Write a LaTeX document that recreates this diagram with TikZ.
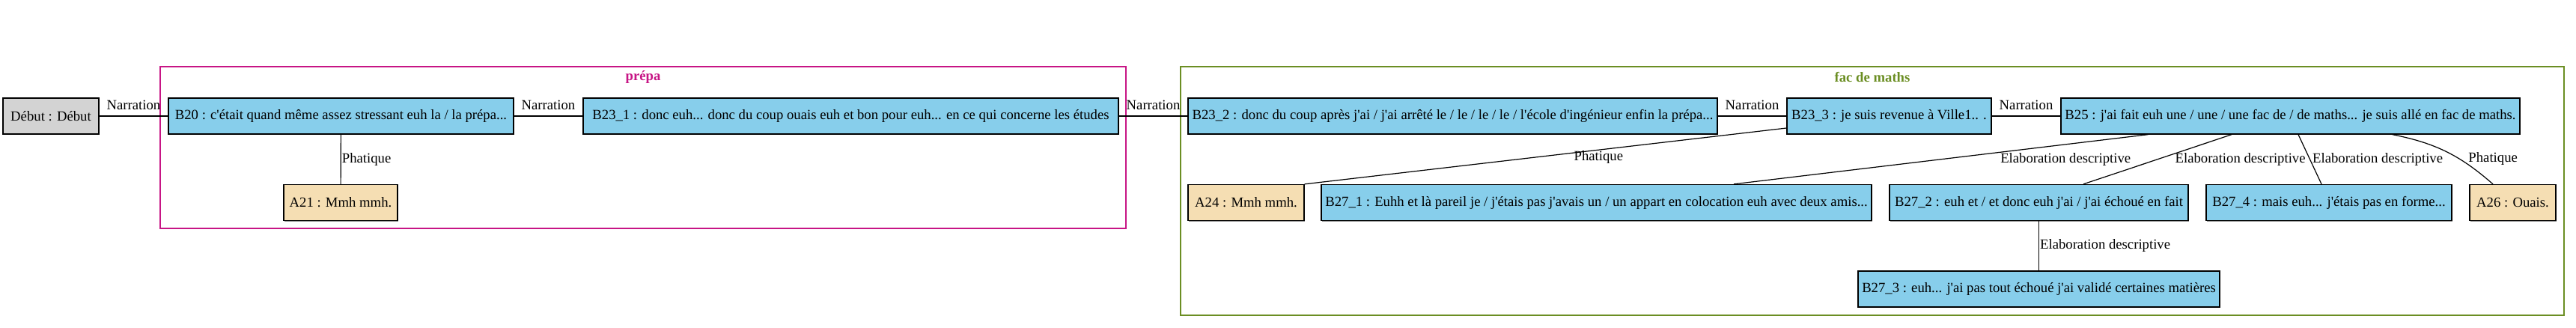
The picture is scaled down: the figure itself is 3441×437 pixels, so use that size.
\documentclass[tikz,border=0pt]{standalone}
\usepackage{fontspec}
\setmainfont{Liberation Serif}[Ligatures=TeXOff]
\usetikzlibrary{shadows}

\definecolor{unitblue}{HTML}{87CEEB}
\definecolor{unitwheat}{HTML}{F5DEB3}
\definecolor{unitgray}{HTML}{D3D3D3}
\definecolor{prepacol}{HTML}{C71585}
\definecolor{faccol}{HTML}{6B8E23}

\begin{document}
\begin{tikzpicture}[x=1pt, y=-1pt,
    every node/.style={font=\fontsize{18.7}{22}\selectfont},
    unit/.style={draw=black, line width=1.3pt, minimum height=48pt, inner sep=0pt,
        drop shadow={shadow xshift=1.3pt, shadow yshift=-1.3pt, fill=black!45, opacity=1}},
    bunit/.style={unit, fill=unitblue},
    aunit/.style={unit, fill=unitwheat},
    rel/.style={inner sep=1pt},
    link/.style={line width=1.2pt},
    cluster/.style={line width=1.3pt}]
    \useasboundingbox (0,0) rectangle (3441,437);

    % CLUSTER: PREPA
    \draw[cluster, prepacol] (214,89) rectangle (1504,305);
    \node[prepacol, font=\fontsize{18.7}{22}\selectfont\bfseries] (prepalbl) at (859,103) {prépa};

    % CLUSTER: FAC DE MATHS
    \draw[cluster, faccol] (1577,89) rectangle (3425,421);
    \node[faccol, font=\fontsize{18.7}{22}\selectfont\bfseries] (faclbl) at (2501,103) {fac de maths};

    % Units
    \node[unit, fill=unitgray, minimum width=128pt] (debut) at (68,155) {Début : Début};
    \node[bunit, minimum width=461pt] (b20) at (455.5,155) {B20 : c'était quand même assez stressant euh la / la prépa...};
    \node[aunit, minimum width=152pt] (a21) at (455,270.5) {A21 : Mmh mmh.};
    \node[bunit, minimum width=715pt] (b231) at (1136.5,155) {B23\_1 : donc euh... donc du coup ouais euh et bon pour euh... en ce qui concerne les études};
    \node[bunit, minimum width=707pt] (b232) at (1940.5,155) {B23\_2 : donc du coup après j'ai / j'ai arrêté le / le / le / le / l'école d'ingénieur enfin la prépa...};
    \node[bunit, minimum width=273pt] (b233) at (2523.5,155) {B23\_3 : je suis revenue à Ville1.. .};
    \node[bunit, minimum width=613pt] (b25) at (3059.5,155) {B25 : j'ai fait euh une / une / une fac de / de maths... je suis allé en fac de maths.};
    \node[aunit, minimum width=155pt] (a24) at (1664.5,270.5) {A24 : Mmh mmh.};
    \node[bunit, minimum width=735pt] (b271) at (2132.5,270.5) {B27\_1 : Euhh et là pareil je / j'étais pas j'avais un / un appart en colocation euh avec deux amis...};
    \node[bunit, minimum width=399pt] (b272) at (2723.5,270.5) {B27\_2 : euh et / et donc euh j'ai / j'ai échoué en fait};
    \node[bunit, minimum width=328pt] (b274) at (3111,270.5) {B27\_4 : mais euh... j'étais pas en forme...};
    \node[aunit, minimum width=115pt] (a26) at (3356.5,270.5) {A26 : Ouais.};
    \node[bunit, minimum width=483pt] (b273) at (2723.5,386) {B27\_3 : euh... j'ai pas tout échoué j'ai validé certaines matières};

    % Relations
    \draw[link] (debut) -- node[rel, above=7pt] {Narration} (b20);
    \draw[link] (b20) -- node[rel, above=7pt] {Narration} (b231);
    \draw[link] (b231) -- node[rel, above=7pt] {Narration} (b232);
    \draw[link] (b232) -- node[rel, above=7pt] {Narration} (b233);
    \draw[link] (b233) -- node[rel, above=7pt] {Narration} (b25);
    \draw[link] (b20) -- node[rel, right] {Phatique} (a21);
    \draw[link] ([yshift=-16pt]b233.west) -- node[rel, pos=0.39, below] {Phatique} (a24.north east);
    \draw[link] ([xshift=117pt]b25.south west) -- node[rel, midway, right, xshift=78pt] {Elaboration descriptive} ([xshift=183.5pt]b271.north);
    \draw[link] ([xshift=-78.5pt]b25.south) -- node[rel, midway, right, xshift=22pt] {Elaboration descriptive} ([xshift=59.5pt]b272.north);
    \draw[link] ([xshift=10.5pt]b25.south) -- node[rel, midway, right, xshift=2pt] {Elaboration descriptive} ([xshift=-10pt]b274.north);
    \draw[link] ([xshift=-171pt]b25.south east) to[bend left=15] node[rel, midway, right, xshift=28pt, yshift=-9pt] {Phatique} ([xshift=-26.5pt]a26.north);
    \draw[link] (b272) -- node[rel, right] {Elaboration descriptive} (b273);
\end{tikzpicture}
\end{document}
